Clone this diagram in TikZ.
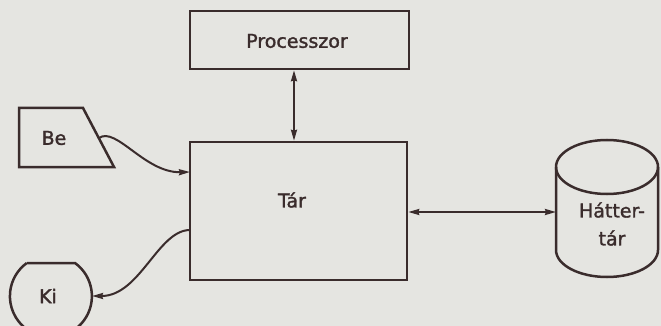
\documentclass[tikz,border=0pt]{standalone}
\usepackage{fontspec}
\setmainfont[FakeBold=1.6]{DejaVu Sans}
\usetikzlibrary{arrows.meta}
\definecolor{ink}{HTML}{3A2C2C}
\definecolor{paper}{HTML}{E5E5E1}
\begin{document}
\begin{tikzpicture}[x=1pt,y=-1pt,
  line width=2.5pt,
  every node/.style={text=ink,font=\fontsize{19}{22}\selectfont},
  boxnode/.style={draw=ink,line width=2.5pt,rectangle,inner sep=0pt},
  shp/.style={draw=ink,line width=2.5pt},
  conn/.style={draw=ink,line width=2pt},
  tip/.style={-{Stealth[length=11pt,width=6pt,inset=1pt]}},
  tips/.style={{Stealth[length=11pt,width=6pt,inset=1pt]}-{Stealth[length=11pt,width=6pt,inset=1pt]}}]
\fill[paper] (0,0) rectangle (661,326);
\useasboundingbox (0,0) rectangle (661,326);
% Processzor
\node[boxnode,minimum width=219pt,minimum height=58pt] (proc) at (299.5,40) {};
\node (proctext) at (297,41) {Processzor};
% Tar
\node[boxnode,minimum width=217pt,minimum height=138pt] (tar) at (298.5,211) {};
\node (tartext) at (292,200) {Tár};
% Be
\draw[shp,line join=miter] (19,108) -- (83,108) -- (114,167) -- (19,167) -- cycle;
\node (be) at (54,138) {Be};
\coordinate (beout) at (99,138);
% Ki
\draw[shp] (27,263) -- (75,263) arc[start angle=-54,end angle=234,radius=41];
\node (ki) at (48,296) {Ki};
\coordinate (kiin) at (92,296);
% Hattertar cylinder
\draw[shp] (607,167) ellipse[x radius=51,y radius=27];
\draw[shp] (556,167) -- (556,250) arc[start angle=180,end angle=0,x radius=51,y radius=27] -- (658,167);
\node[align=center,font=\fontsize{19}{28}\selectfont] (hat) at (612,224) {Hátter-\\tár};
\coordinate (hatin) at (556,212);
\coordinate (vx) at (294,100);
\coordinate (tarin) at (190,172);
\coordinate (tarout) at (190,230);
% connectors
\draw[conn,tips] (proc.south -| vx) -- (tar.north -| vx);
\draw[conn,tips] (tar.east |- hatin) -- (hatin);
\draw[conn,tip] (beout) .. controls (116,126) and (145,173) .. (tarin);
\draw[conn,tip] (tarout) .. controls (158,230) and (140,296) .. (kiin);
\end{tikzpicture}
\end{document}
